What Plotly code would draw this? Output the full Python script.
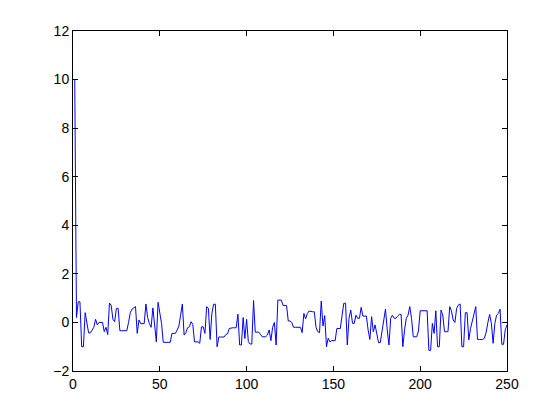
import plotly.graph_objects as go

# series values, x = 1..250
y_vals = [
    10, 0.2, 0.85, 0.85, -1.0, -1.0, 0.4, 0.05, -0.43, -0.43,
    -0.3, -0.2, 0.13, -0.1, 0.0, 0.0, 0.0, -0.38, -0.2, -0.5,
    0.8, 0.7, 0.13, 0.03, 0.58, 0.58, -0.34, -0.34, -0.34, -0.34,
    -0.34, 0.0, 0.4, 0.55, 0.6, 0.65, -0.45, 0.1, -0.05, -0.05,
    -0.05, 0.76, 0.2, -0.05, -0.2, 0.6, -0.1, -0.8, 0.83, 0.44,
    -0.04, -0.82, -0.82, -0.82, -0.82, -0.82, -0.45, -0.45, -0.45, -0.31,
    -0.15, 0.3, 0.76, -0.52, -0.42, -0.22, -0.18, 0.03, -0.08, -0.8,
    -0.8, -0.8, -0.86, -0.18, -0.18, -0.45, 0.65, 0.58, -0.7, 0.37,
    0.75, 0.75, -1.0, -0.6, -0.6, -0.6, -0.6, -0.5, -0.47, -0.25,
    -0.22, -0.22, -0.22, -0.22, 0.34, -0.93, -0.93, 0.2, -0.66, 0.13,
    -0.79, -0.89, -0.89, 0.9, -0.4, -0.4, -0.4, -0.49, -0.59, -0.59,
    -0.59, -0.52, -0.31, -0.75, -0.2, 0.0, -0.93, 0.92, 0.92, 0.92,
    0.7, 0.7, 0.7, 0.06, 0.06, 0.0, -0.2, -0.2, -0.2, -0.2,
    -0.2, -0.42, 0.37, 0.15, 0.37, 0.47, 0.44, 0.44, 0.44, -0.2,
    -0.38, -0.42, 0.88, -0.15, 0.28, -1.0, -0.65, -0.8, -0.75, -0.75,
    -0.75, -0.25, -0.25, -0.25, 0.3, 0.79, 0.79, -0.93, 0.17, 0.51,
    -0.04, -0.04, 0.3, 0.17, 0.17, 0.62, 0.26, 0.26, 0.26, -0.31,
    -0.7, 0.24, -0.38, -0.1, -0.52, -0.83, -0.83, -0.4, 0.03, 0.55,
    -0.31, -0.93, 0.17, 0.3, 0.17, 0.17, 0.26, 0.33, 0.33, -1.0,
    -0.3, 0.17, 0.3, 0.65, 0.17, -0.59, -0.59, -0.59, -0.35, 0.48,
    0.48, 0.48, 0.48, 0.48, -1.15, -1.15, -0.04, -0.45, 0.48, -1.0,
    -1.0, 0.51, 0.3, -0.38, -0.38, -0.38, 0.65, 0.48, 0.1, 0.0,
    0.58, 0.72, 0.76, -1.0, -1.0, 0.4, 0.4, -0.72, -0.25, 0.0,
    0.35, 0.65, -0.7, -0.7, -0.7, -0.7, -0.65, -0.4, 0.0, 0.33,
    -0.04, -0.86, -0.04, 0.3, 0.37, 0.55, -0.9, -0.9, -0.3, -0.1,
]
x_vals = list(range(1, len(y_vals) + 1))

x_ticks = [0, 50, 100, 150, 200, 250]
y_ticks = [-2, 0, 2, 4, 6, 8, 10, 12]

fig = go.Figure()
fig.add_trace(go.Scatter(
    x=x_vals,
    y=y_vals,
    mode="lines",
    line=dict(color="#0000ff", width=1),
    showlegend=False,
))

axis_style = dict(
    showgrid=False,
    zeroline=False,
    showline=True,
    linecolor="black",
    linewidth=1,
    mirror="ticks",
    ticks="inside",
    ticklen=5,
    tickcolor="black",
    tickfont=dict(family="Liberation Sans, Arial, sans-serif", size=14, color="black"),
)

# page body has an 8px margin, so the margins are shifted to land the box where the reference has it
fig.update_layout(
    width=560,
    height=419,
    margin=dict(l=65, r=61, t=23, b=56),
    paper_bgcolor="white",
    plot_bgcolor="white",
    xaxis=dict(range=[0, 250], tickvals=x_ticks, **axis_style),
    yaxis=dict(range=[-2, 12], tickvals=y_ticks, **axis_style),
)

fig.write_html("out.html")
